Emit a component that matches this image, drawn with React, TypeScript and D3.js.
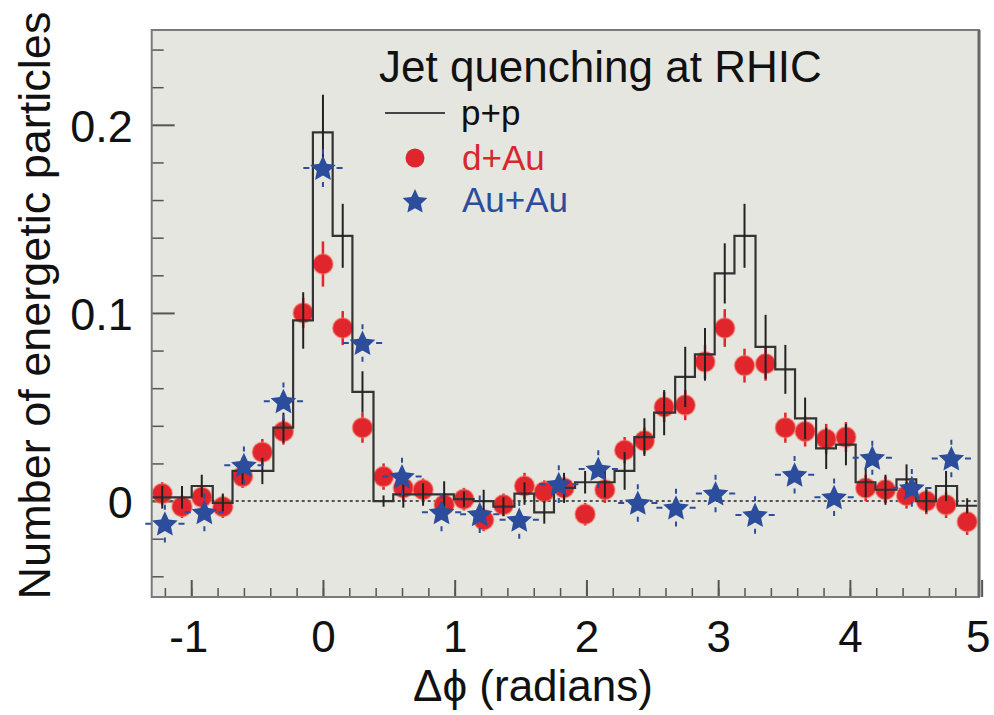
import React, { useEffect, useRef } from 'react';
import * as d3 from 'd3';

// bin centres (radians) shared by p+p and d+Au
const phiBins = [
  -1.22, -1.07, -0.92, -0.76, -0.61, -0.46, -0.30, -0.15, 0.0, 0.15,
  0.30, 0.46, 0.61, 0.76, 0.92, 1.07, 1.22, 1.37, 1.53, 1.68,
  1.83, 1.99, 2.14, 2.29, 2.44, 2.59, 2.75, 2.90, 3.05, 3.20,
  3.36, 3.51, 3.66, 3.82, 3.97, 4.12, 4.27, 4.43, 4.58, 4.73, 4.89,
];
const binWidth = 0.1528;

const ppValues = [
  0.002, 0.002, 0.008, -0.001, 0.016, 0.016, 0.039, 0.096, 0.196, 0.141,
  0.058, 0.000, 0.0035, 0.0035, 0.0035, 0.001, 0.000, -0.003, 0.004, -0.006,
  0.007, 0.010, 0.010, 0.016, 0.034, 0.047, 0.066, 0.078, 0.121, 0.141,
  0.082, 0.070, 0.044, 0.028, 0.030, 0.010, 0.006, 0.0115, 0.000, 0.008, -0.0025,
];
const ppErrors = [
  0.006, 0.006, 0.006, 0.005, 0.007, 0.007, 0.008, 0.015, 0.020, 0.017,
  0.011, 0.003, 0.007, 0.006, 0.007, 0.004, 0.006, 0.005, 0.006, 0.006,
  0.008, 0.006, 0.008, 0.010, 0.010, 0.012, 0.016, 0.014, 0.016, 0.017,
  0.017, 0.013, 0.011, 0.011, 0.011, 0.008, 0.008, 0.008, 0.006, 0.008, 0.004,
];

const dAuValues = [
  0.004, -0.003, 0.002, -0.003, 0.013, 0.026, 0.037, 0.100, 0.126, 0.092,
  0.039, 0.013, 0.007, 0.006, -0.002, 0.001, -0.010, -0.002, 0.008, 0.005,
  0.007, -0.007, 0.006, 0.027, 0.032, 0.050, 0.051, 0.074, 0.092, 0.072,
  0.073, 0.039, 0.037, 0.033, 0.034, 0.007, 0.006, 0.003, 0.000, -0.002, -0.011,
];
const dAuErrors = [
  0.006, 0.006, 0.006, 0.006, 0.006, 0.007, 0.007, 0.008, 0.012, 0.009,
  0.008, 0.007, 0.007, 0.006, 0.006, 0.006, 0.006, 0.006, 0.007, 0.006,
  0.006, 0.006, 0.007, 0.007, 0.007, 0.008, 0.008, 0.009, 0.010, 0.009,
  0.009, 0.008, 0.008, 0.008, 0.008, 0.007, 0.007, 0.007, 0.007, 0.007, 0.007,
];

// Au+Au uses bins twice as wide
const auPhi = [
  -1.20, -0.90, -0.60, -0.30, 0.0, 0.30, 0.60, 0.90, 1.19, 1.49,
  1.79, 2.09, 2.39, 2.68, 2.98, 3.28, 3.58, 3.88, 4.17, 4.47, 4.77,
];
const auBinWidth = 0.298;
const auValues = [
  -0.012, -0.006, 0.019, 0.053, 0.177, 0.084, 0.013, -0.006, -0.007, -0.010,
  0.009, 0.017, -0.001, -0.0035, 0.004, -0.0074, 0.014, 0.002, 0.023, 0.007, 0.0226,
];
const auErrors = [
  0.010, 0.010, 0.010, 0.010, 0.010, 0.010, 0.010, 0.010, 0.010, 0.010,
  0.010, 0.010, 0.010, 0.010, 0.010, 0.010, 0.010, 0.010, 0.009, 0.010, 0.010,
];

const xMajor = [-1, 0, 1, 2, 3, 4, 5];
const xMinor = d3.range(-12, 50, 2).map(d => d / 10);
const yMajor = [0, 0.1, 0.2];
const yMinor = [-0.04, -0.02, 0.02, 0.04, 0.06, 0.08, 0.12, 0.14, 0.16, 0.18, 0.22, 0.24];

const RED = '#e1252c';
const BLUE = '#2c4c9c';
const FONT = '"Liberation Sans", Arial, Helvetica, sans-serif';

const W = 994;
const H = 715;

// five-pointed star with fatter arms than d3.symbolStar; size = outer radius^2
const fatStar = {
  draw(context: any, size: number) {
    const R = Math.sqrt(size);
    const r = R * 0.48;
    for (let i = 0; i < 10; i++) {
      const a = (Math.PI / 5) * i - Math.PI / 2;
      const rr = i % 2 === 0 ? R : r;
      if (i === 0) context.moveTo(rr * Math.cos(a), rr * Math.sin(a));
      else context.lineTo(rr * Math.cos(a), rr * Math.sin(a));
    }
    context.closePath();
  },
};

export default function App() {
  const svgRef = useRef<SVGSVGElement>(null);

  useEffect(() => {
    document.body.style.margin = '0';
    if (!svgRef.current) return;
    const svg = d3.select(svgRef.current);
    svg.selectAll('*').remove();

    const x = d3.scaleLinear().domain([-1.3, 4.98]).range([151.7, 979]);
    const y = d3.scaleLinear().domain([-0.051, 0.2504]).range([597, 30]);
    const [x0, x1] = x.range();
    const [yb, yt] = y.range();

    // plot background
    svg.append('rect')
      .attr('x', x0).attr('y', yt)
      .attr('width', x1 - x0).attr('height', yb - yt)
      .attr('fill', '#e6e6e0');

    // zero reference line
    svg.append('line')
      .attr('x1', x0).attr('x2', x1)
      .attr('y1', y(0)).attr('y2', y(0))
      .attr('stroke', '#222').attr('stroke-width', 1.6)
      .attr('stroke-dasharray', '3,3');

    // ticks (inside the frame)
    const tickStyle = (g: any, w: number) => {
      g.select('.domain').remove();
      g.selectAll('.tick line').attr('stroke', '#555').attr('stroke-width', w);
    };
    svg.append('g').attr('transform', `translate(0,${yb})`)
      .call(d3.axisBottom(x).tickValues(xMinor).tickSize(-9).tickFormat(() => ''))
      .call((g: any) => tickStyle(g, 1.5));
    svg.append('g').attr('transform', `translate(0,${yb})`)
      .call(d3.axisBottom(x).tickValues(xMajor).tickSize(-17).tickFormat((d: any) => String(d)))
      .call((g: any) => {
        tickStyle(g, 2);
        g.selectAll('.tick text')
          .attr('font-family', FONT).attr('font-size', 44).attr('fill', '#111')
          .attr('dy', '0.71em').attr('y', 24);
        g.selectAll('.tick').filter((d: number) => d === 5).select('text').attr('dx', -4);
        g.selectAll('.tick').filter((d: number) => d === -1).select('text').attr('dx', -3);
      });
    svg.append('g').attr('transform', `translate(${x0},0)`)
      .call(d3.axisLeft(y).tickValues(yMinor).tickSize(-12).tickFormat(() => ''))
      .call((g: any) => tickStyle(g, 1.5));
    svg.append('g').attr('transform', `translate(${x0},0)`)
      .call(d3.axisLeft(y).tickValues(yMajor).tickSize(-23).tickPadding(19).tickFormat((d: any) => (d === 0 ? '0' : d3.format('.1f')(d))))
      .call((g: any) => {
        tickStyle(g, 2);
        g.selectAll('.tick text')
          .attr('font-family', FONT).attr('font-size', 45).attr('fill', '#111')
          .attr('dy', '0.36em');
      });

    // d+Au error bars and points
    const dAu = phiBins.map((p, i) => ({ p, v: dAuValues[i], e: dAuErrors[i] }));
    svg.append('g').selectAll('line').data(dAu).join('line')
      .attr('x1', d => x(d.p)).attr('x2', d => x(d.p))
      .attr('y1', d => y(d.v + d.e)).attr('y2', d => y(d.v - d.e))
      .attr('stroke', RED).attr('stroke-width', 2.5);
    svg.append('g').selectAll('circle').data(dAu).join('circle')
      .attr('cx', d => x(d.p)).attr('cy', d => y(d.v)).attr('r', 10)
      .attr('fill', RED).attr('stroke', 'rgba(240,120,100,0.55)').attr('stroke-width', 1.5);

    // p+p histogram
    const steps: [number, number][] = phiBins.map((p, i) => [p - binWidth / 2, ppValues[i]]);
    steps.push([phiBins[phiBins.length - 1] + binWidth / 2, ppValues[ppValues.length - 1]]);
    const stepLine = d3.line<[number, number]>()
      .x(d => x(d[0])).y(d => y(d[1]))
      .curve(d3.curveStepAfter);
    svg.append('path').datum(steps)
      .attr('d', stepLine)
      .attr('fill', 'none').attr('stroke', '#333').attr('stroke-width', 2.2);
    svg.append('g').selectAll('line').data(phiBins.map((p, i) => ({ p, v: ppValues[i], e: ppErrors[i] }))).join('line')
      .attr('x1', d => x(d.p)).attr('x2', d => x(d.p))
      .attr('y1', d => y(d.v + d.e)).attr('y2', d => y(d.v - d.e))
      .attr('stroke', '#222').attr('stroke-width', 2);

    // Au+Au stars with dashed error bars
    const au = auPhi.map((p, i) => ({ p, v: auValues[i], e: auErrors[i] }));
    const auG = svg.append('g');
    au.forEach(d => {
      const hx0 = x(d.p - auBinWidth / 2);
      const hx1 = x(d.p + auBinWidth / 2);
      const hl = hx1 - hx0;
      auG.append('line')
        .attr('x1', hx0).attr('x2', hx1)
        .attr('y1', y(d.v)).attr('y2', y(d.v))
        .attr('stroke', BLUE).attr('stroke-width', 2)
        .attr('stroke-dasharray', `6,${hl - 12},6`);
      const vy0 = y(d.v + d.e);
      const vy1 = y(d.v - d.e);
      const vl = vy1 - vy0;
      auG.append('line')
        .attr('x1', x(d.p)).attr('x2', x(d.p))
        .attr('y1', vy0).attr('y2', vy1)
        .attr('stroke', BLUE).attr('stroke-width', 2)
        .attr('stroke-dasharray', `5,${vl - 10},5`);
    });
    const star = d3.symbol(fatStar, 13.5 * 13.5);
    auG.selectAll('path').data(au).join('path')
      .attr('d', star)
      .attr('transform', d => `translate(${x(d.p)},${y(d.v) + 1})`)
      .attr('fill', BLUE);

    // frame
    svg.append('rect')
      .attr('x', x0).attr('y', yt)
      .attr('width', x1 - x0).attr('height', yb - yt)
      .attr('fill', 'none').attr('stroke', '#7a7a7a').attr('stroke-width', 2);
    svg.append('line')
      .attr('x1', x1).attr('x2', x1).attr('y1', yt).attr('y2', yb)
      .attr('stroke', '#666').attr('stroke-width', 3);

    // legend
    const lg = svg.append('g').attr('font-family', FONT);
    lg.append('text').attr('x', 379).attr('y', 82)
      .attr('font-size', 44).attr('fill', '#111').text('Jet quenching at RHIC');
    lg.append('line').attr('x1', 385).attr('x2', 445).attr('y1', 113).attr('y2', 113)
      .attr('stroke', '#444').attr('stroke-width', 2);
    lg.append('text').attr('x', 461).attr('y', 125)
      .attr('font-size', 35).attr('fill', '#111').text('p+p');
    lg.append('circle').attr('cx', 415).attr('cy', 158).attr('r', 9.5).attr('fill', RED);
    lg.append('text').attr('x', 462).attr('y', 170)
      .attr('font-size', 35).attr('fill', '#d8282e').text('d+Au');
    lg.append('path').attr('d', d3.symbol(fatStar, 13 * 13)())
      .attr('transform', 'translate(415,202)').attr('fill', BLUE);
    lg.append('text').attr('x', 462).attr('y', 212)
      .attr('font-size', 35).attr('fill', BLUE).text('Au+Au');

    // axis titles
    svg.append('text')
      .attr('transform', `translate(50,${(yb + yt) / 2 - 8}) rotate(-90)`)
      .attr('text-anchor', 'middle')
      .attr('font-family', FONT).attr('font-size', 45).attr('fill', '#111')
      .text('Number of energetic particles');
    svg.append('text')
      .attr('x', 533).attr('y', 701)
      .attr('text-anchor', 'middle')
      .attr('font-family', FONT).attr('font-size', 44).attr('fill', '#111')
      .text('Δϕ (radians)');
  }, []);

  return (
    <div style={{ position: 'absolute', left: 0, top: 0 }}>
      <svg ref={svgRef} width={W} height={H} style={{ display: 'block', background: '#fff' }} />
    </div>
  );
}
